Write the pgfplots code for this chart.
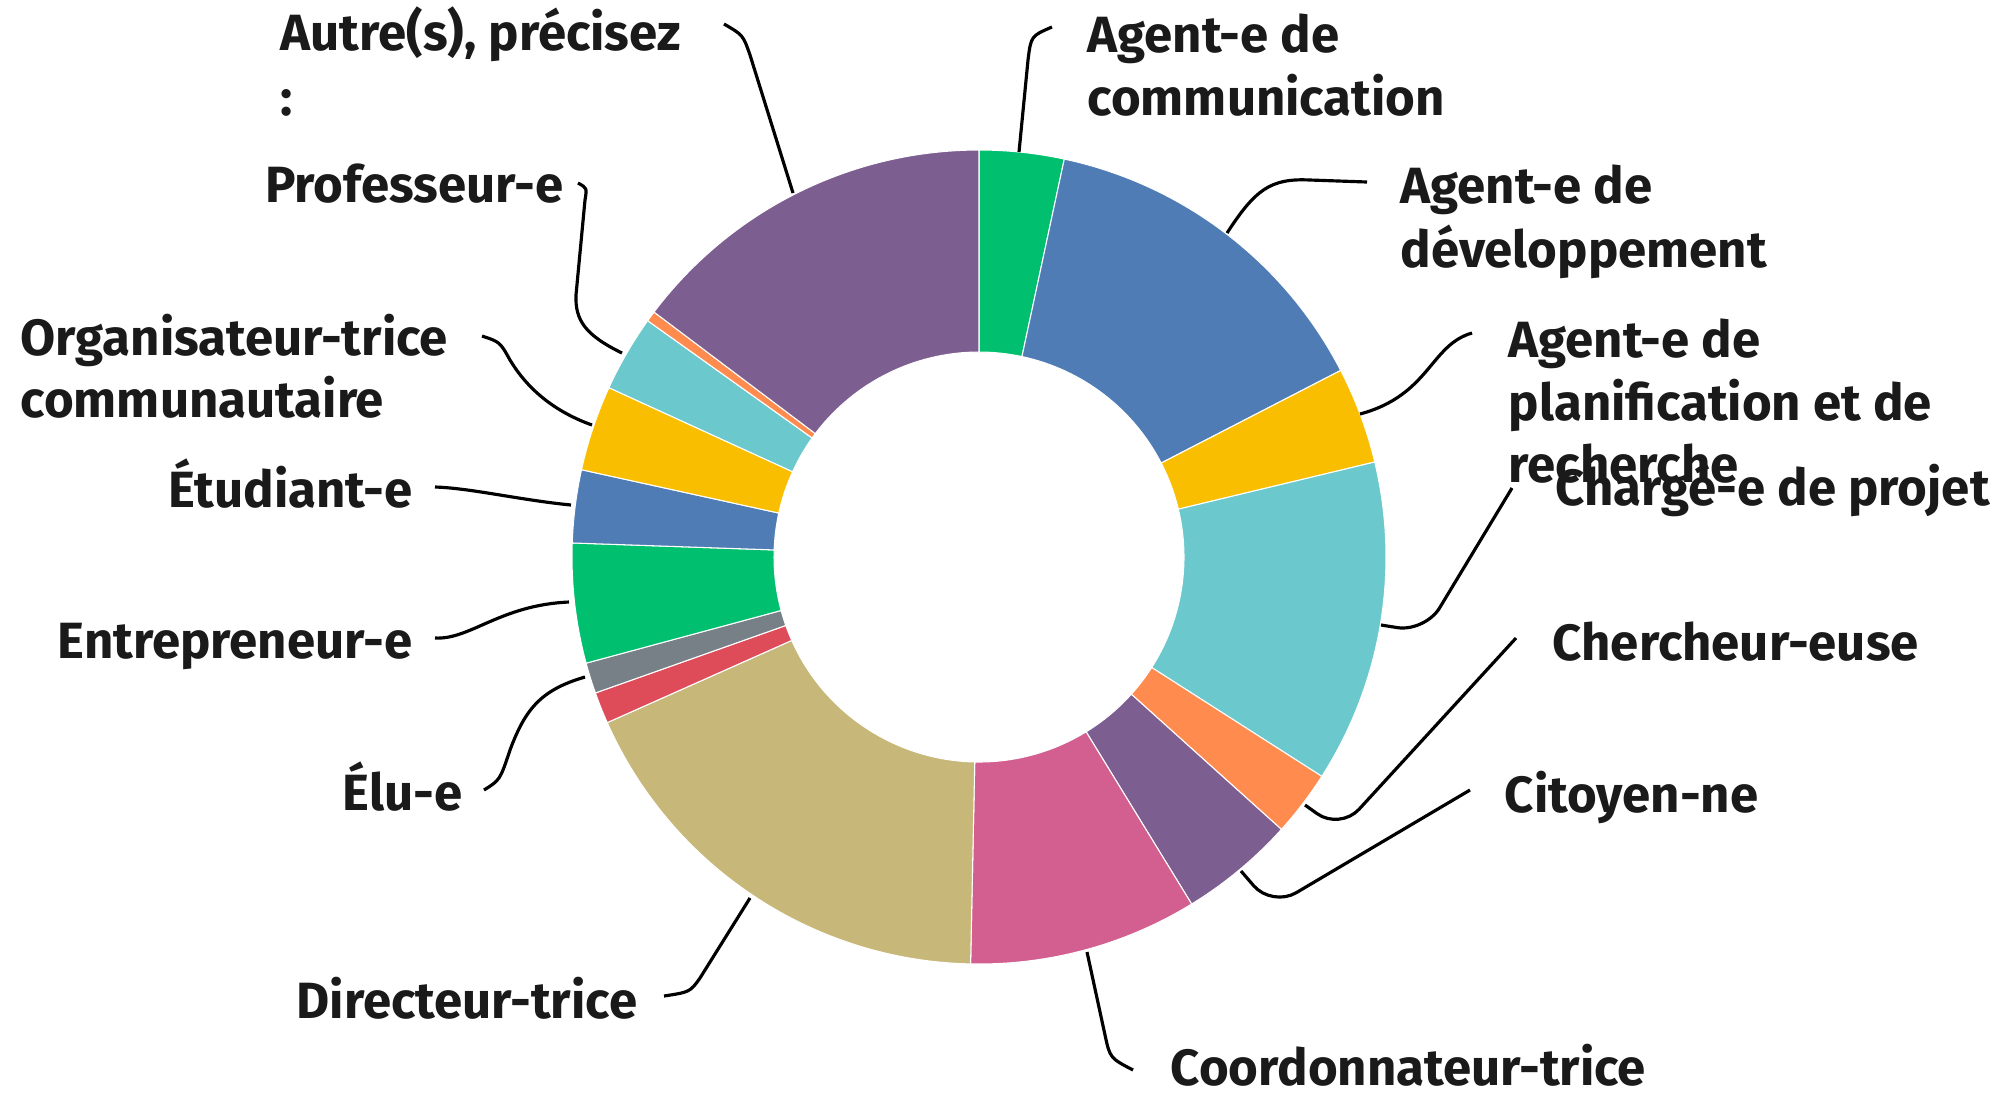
\documentclass[border=0pt]{standalone}
\usepackage{fontspec}
\setmainfont{Fira Sans}[FakeStretch=1.0]
\usepackage{pgfplots}
\usepackage{pgfplotstable}
\pgfplotsset{compat=1.18}
\definecolor{cgreen}{HTML}{00BF6F}
\definecolor{cblue}{HTML}{507CB6}
\definecolor{cyellow}{HTML}{F9BE00}
\definecolor{cteal}{HTML}{6BC8CD}
\definecolor{corange}{HTML}{FF8B4F}
\definecolor{cpurple}{HTML}{7D5E90}
\definecolor{cpink}{HTML}{D25F90}
\definecolor{ctan}{HTML}{C7B778}
\definecolor{cred}{HTML}{DE4C5A}
\definecolor{cgray}{HTML}{768086}
\definecolor{ctext}{HTML}{1A1A1A}
\tikzset{
  lab/.style={font=\bfseries\fontsize{14.5}{18}\selectfont, text=ctext, inner sep=0pt},
  ldr/.style={draw=black, line width=0.9pt},
}
% share of each answer, in percent, clockwise from the top
\pgfplotstableread{
value col
3.36  cgreen
14.06 cblue
3.83  cyellow
12.81 cteal
2.61  corange
4.58  cpurple
9.08  cpink
18.00 ctan
1.25  cred
1.22  cgray
4.75  cgreen
2.89  cblue
3.39  cyellow
3.03  cteal
0.42  corange
14.72 cpurple
}\slices
\begin{document}
\begin{tikzpicture}
\begin{axis}[
  scale only axis, width=20.01cm, height=10.96cm,
  xmin=0, xmax=2001, ymin=0, ymax=1096, y dir=reverse,
  enlargelimits=false, hide axis, clip=false,
]
\pgfmathsetmacro{\cum}{0}
\pgfplotsforeachungrouped \i in {0,...,15}{%
  \pgfplotstablegetelem{\i}{value}\of\slices \let\val\pgfplotsretval
  \pgfplotstablegetelem{\i}{col}\of\slices \let\col\pgfplotsretval
  \pgfmathsetmacro{\aa}{\cum*3.6}
  \pgfmathsetmacro{\bb}{(\cum+\val)*3.6}
  \pgfmathsetmacro{\xo}{979+407*sin(\aa)}
  \pgfmathsetmacro{\yo}{557-407*cos(\aa)}
  \pgfmathsetmacro{\xi}{979+205*sin(\bb)}
  \pgfmathsetmacro{\yi}{557-205*cos(\bb)}
  \pgfmathsetmacro{\sa}{90-\aa}
  \pgfmathsetmacro{\ea}{90-\bb}
  \edef\temp{\noexpand\fill[\col, draw=white, line width=0.3pt] (axis cs:\xo,\yo) arc[start angle=\sa, end angle=\ea, radius=4.07cm] -- (axis cs:\xi,\yi) arc[start angle=\ea, end angle=\sa, radius=2.05cm] -- cycle;}%
  \temp
  \pgfmathsetmacro{\cum}{\cum+\val}%
}
% leader lines
\draw[ldr] (axis cs:1019,152) -- (axis cs:1028,60) .. controls (axis cs:1031,36) .. (axis cs:1052,27);
\draw[ldr] (axis cs:1227,233) .. controls (axis cs:1255,190) and (axis cs:1270,178) .. (axis cs:1310,180) -- (axis cs:1367,182);
\draw[ldr] (axis cs:1360,414) .. controls (axis cs:1430,395) and (axis cs:1430,345) .. (axis cs:1472,333);
\draw[ldr, rounded corners=8pt] (axis cs:1381,625) -- (axis cs:1425,632) -- (axis cs:1512,488);
\draw[ldr, rounded corners=8pt] (axis cs:1305,805) -- (axis cs:1340,830) -- (axis cs:1516,638);
\draw[ldr, rounded corners=8pt] (axis cs:1241,871) -- (axis cs:1272,907) -- (axis cs:1470,790);
\draw[ldr] (axis cs:1087,952) -- (axis cs:1105,1035) .. controls (axis cs:1110,1058) .. (axis cs:1133,1070);
\draw[ldr] (axis cs:750,898) -- (axis cs:700,978) .. controls (axis cs:690,992) .. (axis cs:664,996);
\draw[ldr] (axis cs:585,677) .. controls (axis cs:540,690) and (axis cs:525,710) .. (axis cs:510,750) .. controls (axis cs:500,780) .. (axis cs:484,790);
\draw[ldr] (axis cs:569,602) .. controls (axis cs:500,605) and (axis cs:470,640) .. (axis cs:435,638);
\draw[ldr] (axis cs:571,505) .. controls (axis cs:520,500) and (axis cs:470,488) .. (axis cs:435,487);
\draw[ldr] (axis cs:592,425) .. controls (axis cs:550,410) and (axis cs:525,385) .. (axis cs:510,360) .. controls (axis cs:500,342) .. (axis cs:482,336);
\draw[ldr] (axis cs:622,353) .. controls (axis cs:585,335) and (axis cs:575,320) .. (axis cs:576,295) -- (axis cs:585,200) .. controls (axis cs:587,188) .. (axis cs:578,183);
\draw[ldr] (axis cs:793,193) -- (axis cs:750,55) .. controls (axis cs:743,35) .. (axis cs:724,24);
% labels
\node[lab, anchor=base west] at (axis cs:280,50) {Autre(s), précisez};
\node[lab, anchor=base west] at (axis cs:280,115) {:};
\node[lab, anchor=base east] at (axis cs:564,202) {Professeur-e};
\node[lab, anchor=base west] at (axis cs:20,355) {Organisateur-trice};
\node[lab, anchor=base west] at (axis cs:20,417) {communautaire};
\node[lab, anchor=base east] at (axis cs:413,507) {Étudiant-e};
\node[lab, anchor=base east] at (axis cs:413,658) {Entrepreneur-e};
\node[lab, anchor=base east] at (axis cs:463,810) {Élu-e};
\node[lab, anchor=base west] at (axis cs:296,1018) {Directeur-trice};
\node[lab, anchor=base west] at (axis cs:1170,1085) {Coordonnateur-trice};
\node[lab, anchor=base west] at (axis cs:1504,812) {Citoyen-ne};
\node[lab, anchor=base west] at (axis cs:1552,660) {Chercheur-euse};
\node[lab, anchor=base west] at (axis cs:1508,357) {Agent-e de};
\node[lab, anchor=base west] at (axis cs:1508,420) {planification et de};
\node[lab, anchor=base west] at (axis cs:1508,482) {recherche};
\node[lab, anchor=base west] at (axis cs:1555,505) {Chargé-e de projet};
\node[lab, anchor=base west] at (axis cs:1400,203) {Agent-e de};
\node[lab, anchor=base west] at (axis cs:1400,267) {développement};
\node[lab, anchor=base west] at (axis cs:1087,52) {Agent-e de};
\node[lab, anchor=base west] at (axis cs:1087,115) {communication};
\path (axis cs:0,0) (axis cs:2001,1096);
\end{axis}
\end{tikzpicture}
\end{document}
